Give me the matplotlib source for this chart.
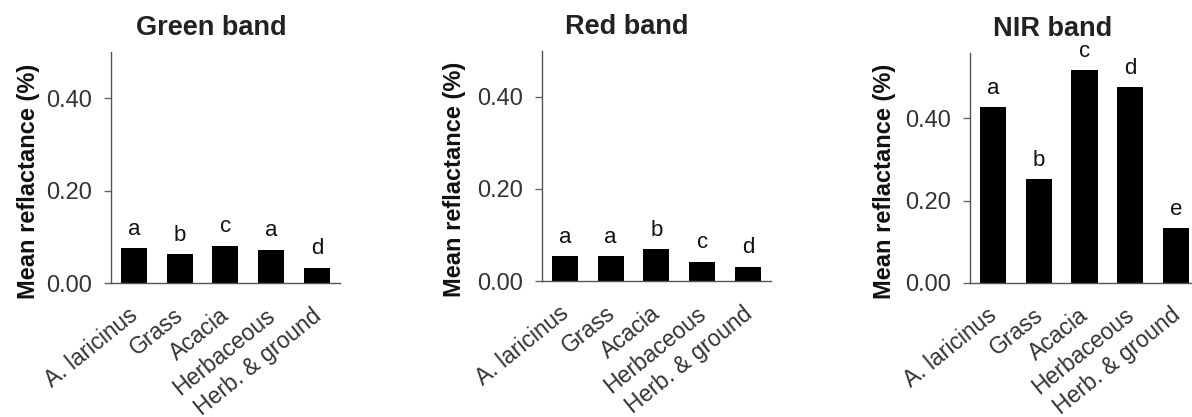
import matplotlib
matplotlib.use("Agg")
import matplotlib.pyplot as plt
import matplotlib.transforms as mtransforms

plt.rcParams['font.family'] = ['Liberation Sans', 'DejaVu Sans']

# categorias y valores
categorias = ["A. laricinus", "Grass", "Acacia", "Herbaceous", "Herb. & ground"]

green = [0.075, 0.063, 0.081, 0.072, 0.033]
red = [0.054, 0.054, 0.069, 0.042, 0.031]
nir = [0.427, 0.252, 0.517, 0.476, 0.133]

letras_green = ["a", "b", "c", "a", "d"]
letras_red = ["a", "a", "b", "c", "d"]
letras_nir = ["a", "b", "c", "d", "e"]

titulos = ["Green band", "Red band", "NIR band"]
yticks = [0.0, 0.2, 0.4]
ytick_labels = ["0.00", "0.20", "0.40"]

fig = plt.figure(figsize=(11.92, 4.17), dpi=100)

# posiciones de cada panel: [left, bottom, width, height], ylim, x titulo, x ylabel
paneles = [
    ([0.0931, 0.3213, 0.192, 0.554], green, letras_green, 0.50, 0.44, -0.310),
    ([0.4547, 0.3260, 0.192, 0.552], red, letras_red, 0.50, 0.37, -0.333),
    ([0.8138, 0.3220, 0.192, 0.552], nir, letras_nir, 0.56, 0.36, -0.322),
]

gris = "#333333"
desplazamiento = mtransforms.ScaledTranslation(-6 / 100, 0, fig.dpi_scale_trans)

for (pos, valores, letras, ytop, tx, lx), titulo in zip(paneles, titulos):
    ax = fig.add_axes(pos)
    x = range(len(categorias))
    ax.bar(x, valores, width=0.57, color="black")
    for xi, v, l in zip(x, valores, letras):
        ax.annotate(l, (xi, v), xytext=(0, 6), textcoords="offset points",
                    ha="center", va="bottom", fontsize=16, color="#111111")
    ax.set_xlim(-0.5, 4.5)
    ax.set_ylim(0, ytop)
    ax.set_yticks(yticks)
    ax.set_yticklabels(ytick_labels, fontsize=17, color=gris)
    ax.set_xticks(list(x))
    ax.tick_params(axis="x", length=0, pad=15)
    ax.tick_params(axis="y", length=5, width=1, color="#666666", pad=9)
    ax.set_xticklabels(categorias, rotation=39, ha="right",
                       rotation_mode="anchor", fontsize=16.5, color=gris)
    # correr las etiquetas un poco a la izquierda
    for lab in ax.get_xticklabels():
        lab.set_transform(lab.get_transform() + desplazamiento)
    for s in ["top", "right"]:
        ax.spines[s].set_visible(False)
    for s in ["left", "bottom"]:
        ax.spines[s].set_color("#555555")
        ax.spines[s].set_linewidth(1)
    ax.set_ylabel("Mean reflactance (%)", fontsize=17, fontweight="bold",
                  color="#111111")
    ax.yaxis.set_label_coords(lx, 0.44)
    ax.set_title(titulo, fontsize=19.5, fontweight="bold", color="#222222",
                 x=tx, y=1.0, pad=12)

fig.savefig("out.png", dpi=100)
